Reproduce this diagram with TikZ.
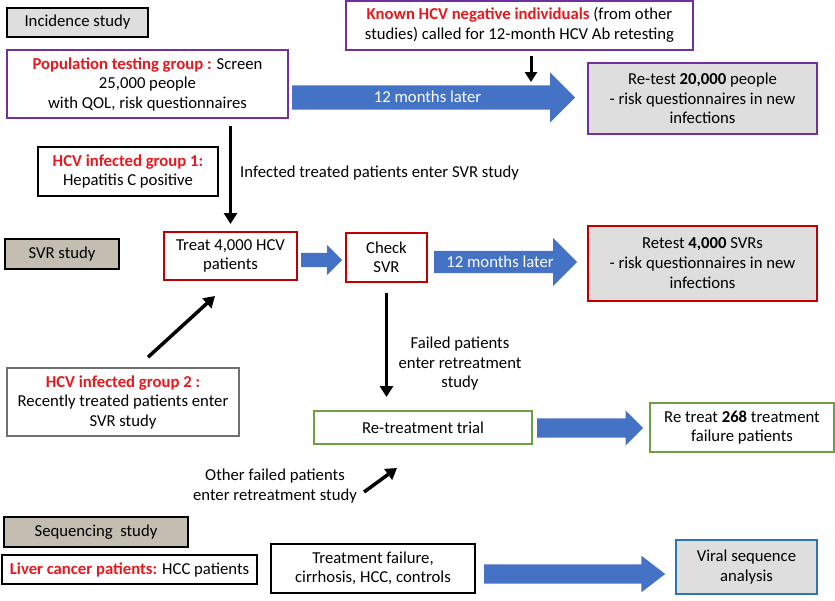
\documentclass[tikz,border=0pt]{standalone}
\usepackage{fontspec}
\setmainfont{Carlito}
\usepackage{tikz}
\usetikzlibrary{arrows.meta,shapes.arrows,calc}
\definecolor{hcvred}{HTML}{E8191E}
\definecolor{boxred}{HTML}{C00000}
\definecolor{boxpurple}{HTML}{7030A0}
\definecolor{boxgreen}{HTML}{6A9F45}
\definecolor{boxblue}{HTML}{2E75B6}
\definecolor{arrowblue}{HTML}{4472C4}
\definecolor{lightgrey}{HTML}{DEDEDE}
\definecolor{taupe}{HTML}{C3BEB1}
\definecolor{midgrey}{HTML}{707070}
\newcommand{\hl}[1]{{\color{hcvred}\bfseries #1}}

\begin{document}
\begin{tikzpicture}[x=1pt,y=-1pt,font=\fontsize{16.7}{19.5}\selectfont,
box/.style={draw=#1,line width=2pt,fill=white,align=center,inner sep=0pt},
studybox/.style={draw=black,line width=2.8pt,fill=#1,inner sep=0pt},
bigarrow/.style={single arrow,fill=arrowblue,text=white,inner sep=0pt,anchor=tail},
blackarr/.style={line width=3.5pt,-{Triangle[width=13pt,length=11pt]}},
plain/.style={align=center,inner sep=0pt}]
\useasboundingbox (0,0) rectangle (835,600);

% incidence study
\node[studybox=lightgrey,minimum width=141,minimum height=29] (inc) at (77.5,22.5) {Incidence study};
\node[box=boxpurple,minimum width=347,minimum height=49] (known) at (519.5,25)
   {\hl{Known HCV negative individuals} (from other\\studies) called for 12-month HCV Ab retesting};
\node[box=boxpurple,minimum width=281,minimum height=68] (pop) at (147.5,84)
   {\hl{Population testing group :} Screen\\25,000 people\\with QOL, risk questionnaires};
\node[box=boxpurple,fill=lightgrey,minimum width=229,minimum height=71] (retest) at (702.5,98.5)
   {Re-test \textbf{20,000} people\\- risk questionnaires in new\\infections};
\node[box=black,minimum width=180,minimum height=49] (grpone) at (128,171.5)
   {\hl{HCV infected group 1:}\\Hepatitis C positive};
\node[plain,anchor=west] (inftxt) at (240,173) {Infected treated patients enter SVR study};

% svr study
\node[studybox=taupe,minimum width=114,minimum height=30] (svr) at (62,254) {SVR study};
\node[box=boxred,minimum width=133,minimum height=48] (treat) at (230.5,256) {Treat 4,000 HCV\\patients};
\node[box=boxred,minimum width=81,minimum height=49] (check) at (386.5,257.5) {Check\\SVR};
\node[box=boxred,fill=lightgrey,minimum width=229,minimum height=75] (retestsvr) at (702.5,263.5)
   {Retest \textbf{4,000} SVRs\\- risk questionnaires in new\\[1pt]infections};
\node[box=midgrey,line width=1.6pt,minimum width=232,minimum height=68] (grptwo) at (123,402)
   {\hl{HCV infected group 2 :}\\Recently treated patients enter\\SVR study};
\node[plain] (failtxt) at (460,364) {Failed patients\\enter retreatment\\study};
\node[box=boxgreen,minimum width=218,minimum height=33] (retrial) at (423,427.5) {Re-treatment trial};
\node[box=boxgreen,minimum width=184,minimum height=49] (retreat) at (742,427.5)
   {Re treat \textbf{268} treatment\\failure patients};
\node[plain] (othertxt) at (275,486) {Other failed patients\\enter retreatment study};

% sequencing study
\node[studybox=taupe,minimum width=184,minimum height=30] (seq) at (96,532) {Sequencing\ \ study};
\node[box=black,minimum width=255,minimum height=29] (liver) at (129.5,569.5)
   {\hl{Liver cancer patients:} HCC patients};
\node[box=black,line width=2.4pt,minimum width=204,minimum height=49] (tfail) at (373,568.5)
   {Treatment failure,\\cirrhosis, HCC, controls};
\node[box=boxblue,fill=lightgrey,minimum width=141,minimum height=54] (viral) at (746.5,567)
   {Viral sequence\\analysis};

% block arrows
\node[bigarrow,minimum height=283,minimum width=50,single arrow head extend=13,
   text height=17pt,text depth=7pt] (aone) at (292,97.5) {12 months later};
\node[bigarrow,minimum height=41,minimum width=30,single arrow head extend=8,
   text height=14pt,text depth=0pt] (atwo) at (301,260) {};
\node[bigarrow,minimum height=143,minimum width=48,single arrow head extend=13,
   text height=16pt,text depth=6pt] (athree) at (434,262) {12 months later};
\node[bigarrow,minimum height=106,minimum width=35,single arrow head extend=8,
   text height=19pt,text depth=0pt] (afour) at (537,428) {};
\node[bigarrow,minimum height=181,minimum width=36,single arrow head extend=8.5,single arrow tip angle=75,
   text height=19pt,text depth=0pt] (afive) at (484,574) {};

% black arrows
\coordinate (kin) at (531,82);
\draw[blackarr,line width=3pt,-{Triangle[width=12pt,length=10pt]},shorten <=5pt] (known.south -| kin) -- (kin);
\draw[blackarr,shorten <=7pt,shorten >=7pt] (treat.north |- pop.south) -- (treat.north);
\draw[blackarr,shorten <=10pt,shorten >=13pt] (check.south) -- (check.south |- retrial.north);
\draw[blackarr] ($(grptwo.north)+(25,-10)$) -- ($(treat.south)+(-15.5,15)$);
\draw[blackarr] ($(othertxt.east)+(7,6)$) -- ($(retrial.south)+(-26,23)$);
\end{tikzpicture}
\end{document}
